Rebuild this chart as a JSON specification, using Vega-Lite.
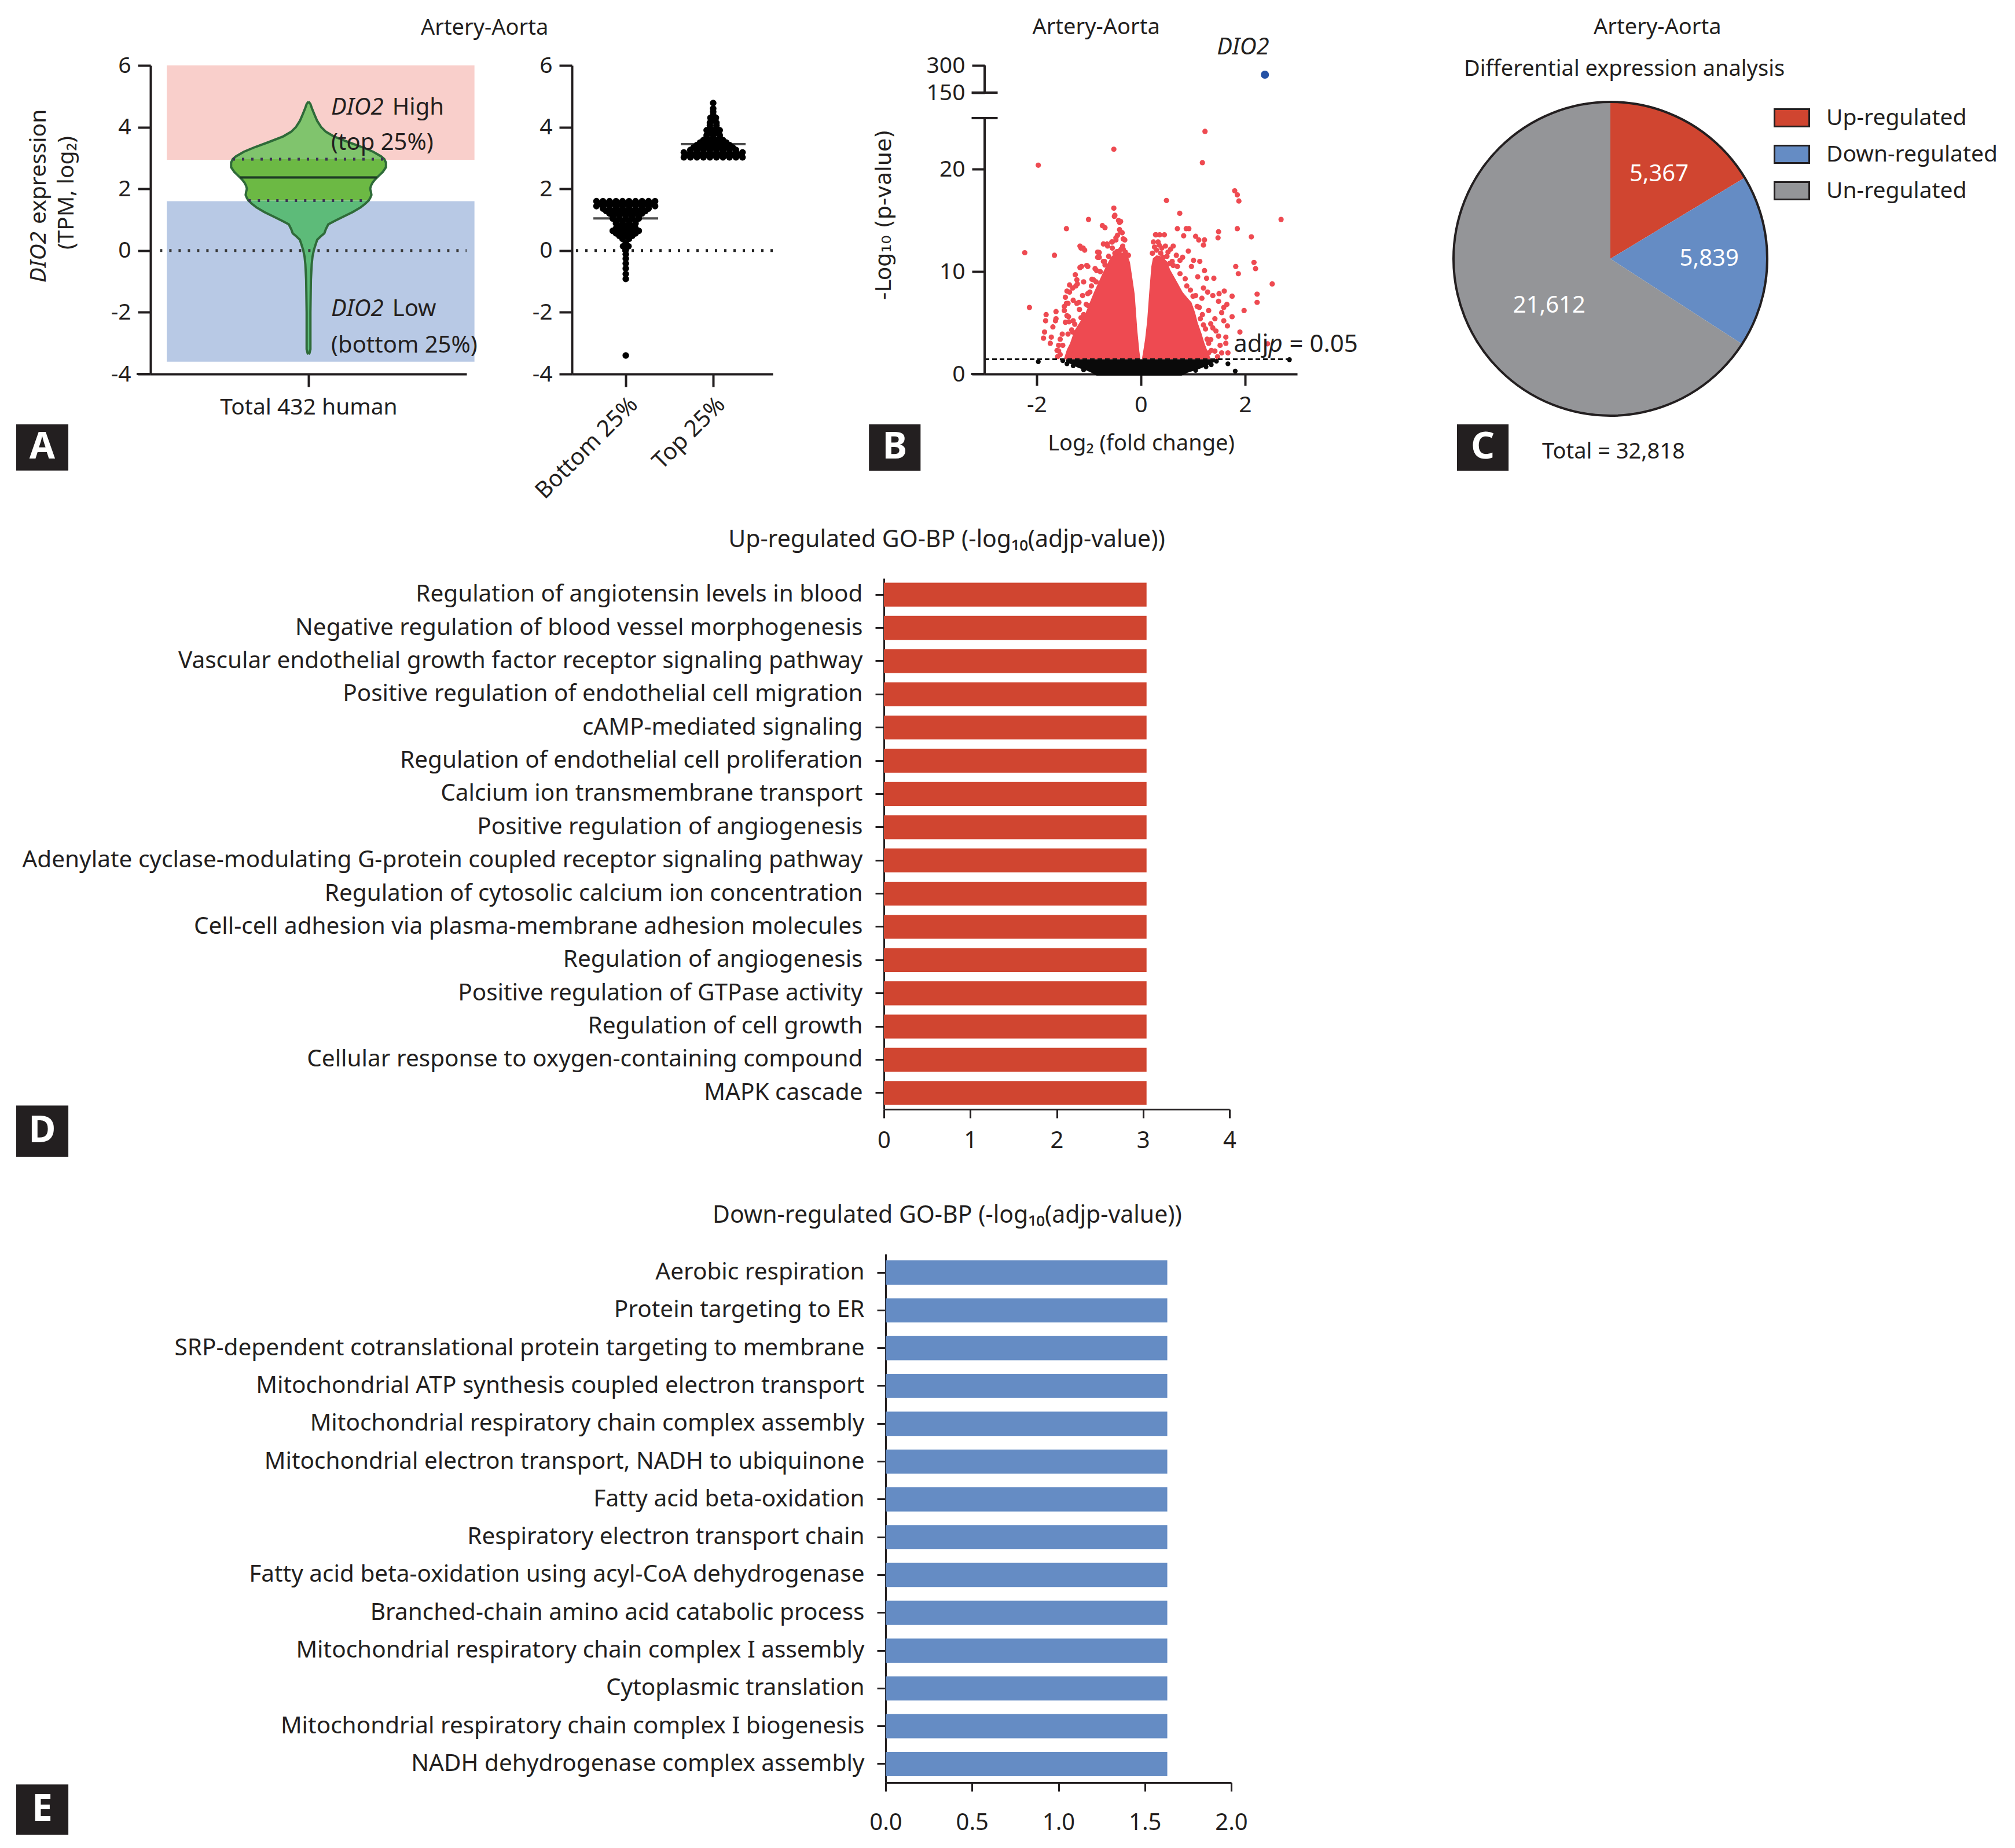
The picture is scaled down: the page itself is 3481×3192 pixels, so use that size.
{
"$schema": "https://vega.github.io/schema/vega-lite/v6.json",
"background": "white",
"padding": {"left": 27, "top": 29, "right": 10, "bottom": 10},
"config": {
  "view": {"stroke": null},
  "font": "Noto Sans",
  "axis": {"labelFont": "Noto Sans", "titleFont": "Noto Sans", "labelFontSize": 39, "titleFontSize": 38, "titleFontWeight": "normal", "labelColor": "#231f20", "titleColor": "#231f20", "domainColor": "#231f20", "tickColor": "#231f20", "domainWidth": 4, "tickWidth": 4, "tickSize": 20, "labelPadding": 12, "grid": false, "labelLimit": 0, "labelFlush": false, "labelOverlap": false},
  "text": {"font": "Noto Sans", "fontSize": 38, "color": "#231f20"}
},
"datasets": {
  "violin": [
    {"seg":"top","v":4.83,"l":0,"r":0},{"seg":"top","v":4.75,"l":-0.012,"r":0.012},{"seg":"top","v":4.6,"l":-0.022,"r":0.022},{"seg":"top","v":4.4,"l":-0.038,"r":0.038},{"seg":"top","v":4.2,"l":-0.055,"r":0.055},{"seg":"top","v":4.0,"l":-0.08,"r":0.08},{"seg":"top","v":3.85,"l":-0.11,"r":0.11},{"seg":"top","v":3.7,"l":-0.16,"r":0.16},{"seg":"top","v":3.5,"l":-0.26,"r":0.26},{"seg":"top","v":3.35,"l":-0.34,"r":0.34},{"seg":"top","v":3.2,"l":-0.41,"r":0.41},{"seg":"top","v":3.05,"l":-0.46,"r":0.46},{"seg":"top","v":2.96,"l":-0.48,"r":0.48},
    {"seg":"mid","v":2.96,"l":-0.48,"r":0.48},{"seg":"mid","v":2.85,"l":-0.49,"r":0.49},{"seg":"mid","v":2.7,"l":-0.49,"r":0.49},{"seg":"mid","v":2.55,"l":-0.47,"r":0.47},{"seg":"mid","v":2.4,"l":-0.44,"r":0.44},{"seg":"mid","v":2.3,"l":-0.42,"r":0.42},{"seg":"mid","v":2.2,"l":-0.405,"r":0.405},{"seg":"mid","v":2.1,"l":-0.395,"r":0.395},{"seg":"mid","v":2.0,"l":-0.39,"r":0.39},{"seg":"mid","v":1.9,"l":-0.395,"r":0.395},{"seg":"mid","v":1.8,"l":-0.398,"r":0.398},{"seg":"mid","v":1.7,"l":-0.39,"r":0.39},{"seg":"mid","v":1.62,"l":-0.38,"r":0.38},
    {"seg":"low","v":1.62,"l":-0.38,"r":0.38},{"seg":"low","v":1.5,"l":-0.355,"r":0.355},{"seg":"low","v":1.4,"l":-0.33,"r":0.33},{"seg":"low","v":1.25,"l":-0.28,"r":0.28},{"seg":"low","v":1.1,"l":-0.22,"r":0.22},{"seg":"low","v":0.97,"l":-0.17,"r":0.17},{"seg":"low","v":0.85,"l":-0.125,"r":0.125},{"seg":"low","v":0.7,"l":-0.11,"r":0.11},{"seg":"low","v":0.56,"l":-0.1,"r":0.1},{"seg":"low","v":0.45,"l":-0.075,"r":0.075},{"seg":"low","v":0.35,"l":-0.055,"r":0.055},{"seg":"low","v":0.2,"l":-0.045,"r":0.045},{"seg":"low","v":0.02,"l":-0.034,"r":0.034},{"seg":"low","v":-0.2,"l":-0.025,"r":0.025},{"seg":"low","v":-0.45,"l":-0.02,"r":0.02},{"seg":"low","v":-0.95,"l":-0.015,"r":0.015},{"seg":"low","v":-2.0,"l":-0.012,"r":0.012},{"seg":"low","v":-3.2,"l":-0.012,"r":0.012},{"seg":"low","v":-3.32,"l":-0.006,"r":0.006},{"seg":"low","v":-3.36,"l":0,"r":0}
  ],
  "bees": [
    {"g":"B","v":1.6,"d":-0.54},{"g":"B","v":1.6,"d":-0.42},{"g":"B","v":1.6,"d":-0.3},{"g":"B","v":1.6,"d":-0.18},{"g":"B","v":1.6,"d":-0.06},{"g":"B","v":1.6,"d":0.06},{"g":"B","v":1.6,"d":0.18},{"g":"B","v":1.6,"d":0.3},{"g":"B","v":1.6,"d":0.42},{"g":"B","v":1.6,"d":0.54},
    {"g":"B","v":1.52,"d":-0.48},{"g":"B","v":1.52,"d":-0.36},{"g":"B","v":1.52,"d":-0.24},{"g":"B","v":1.52,"d":-0.12},{"g":"B","v":1.52,"d":0},{"g":"B","v":1.52,"d":0.12},{"g":"B","v":1.52,"d":0.24},{"g":"B","v":1.52,"d":0.36},{"g":"B","v":1.52,"d":0.48},
    {"g":"B","v":1.44,"d":-0.54},{"g":"B","v":1.44,"d":-0.42},{"g":"B","v":1.44,"d":-0.3},{"g":"B","v":1.44,"d":-0.18},{"g":"B","v":1.44,"d":-0.06},{"g":"B","v":1.44,"d":0.06},{"g":"B","v":1.44,"d":0.18},{"g":"B","v":1.44,"d":0.3},{"g":"B","v":1.44,"d":0.42},{"g":"B","v":1.44,"d":0.54},
    {"g":"B","v":1.36,"d":-0.42},{"g":"B","v":1.36,"d":-0.3},{"g":"B","v":1.36,"d":-0.18},{"g":"B","v":1.36,"d":-0.06},{"g":"B","v":1.36,"d":0.06},{"g":"B","v":1.36,"d":0.18},{"g":"B","v":1.36,"d":0.3},{"g":"B","v":1.36,"d":0.42},
    {"g":"B","v":1.28,"d":-0.36},{"g":"B","v":1.28,"d":-0.24},{"g":"B","v":1.28,"d":-0.12},{"g":"B","v":1.28,"d":0},{"g":"B","v":1.28,"d":0.12},{"g":"B","v":1.28,"d":0.24},{"g":"B","v":1.28,"d":0.36},
    {"g":"B","v":1.2,"d":-0.3},{"g":"B","v":1.2,"d":-0.18},{"g":"B","v":1.2,"d":-0.06},{"g":"B","v":1.2,"d":0.06},{"g":"B","v":1.2,"d":0.18},{"g":"B","v":1.2,"d":0.3},
    {"g":"B","v":1.12,"d":-0.24},{"g":"B","v":1.12,"d":-0.12},{"g":"B","v":1.12,"d":0},{"g":"B","v":1.12,"d":0.12},{"g":"B","v":1.12,"d":0.24},
    {"g":"B","v":1.04,"d":-0.24},{"g":"B","v":1.04,"d":-0.12},{"g":"B","v":1.04,"d":0},{"g":"B","v":1.04,"d":0.12},{"g":"B","v":1.04,"d":0.24},
    {"g":"B","v":0.96,"d":-0.18},{"g":"B","v":0.96,"d":-0.06},{"g":"B","v":0.96,"d":0.06},{"g":"B","v":0.96,"d":0.18},
    {"g":"B","v":0.88,"d":-0.18},{"g":"B","v":0.88,"d":-0.06},{"g":"B","v":0.88,"d":0.06},{"g":"B","v":0.88,"d":0.18},
    {"g":"B","v":0.8,"d":-0.12},{"g":"B","v":0.8,"d":0},{"g":"B","v":0.8,"d":0.12},
    {"g":"B","v":0.72,"d":-0.18},{"g":"B","v":0.72,"d":-0.06},{"g":"B","v":0.72,"d":0.06},{"g":"B","v":0.72,"d":0.18},
    {"g":"B","v":0.64,"d":-0.24},{"g":"B","v":0.64,"d":-0.12},{"g":"B","v":0.64,"d":0},{"g":"B","v":0.64,"d":0.12},{"g":"B","v":0.64,"d":0.24},
    {"g":"B","v":0.56,"d":-0.18},{"g":"B","v":0.56,"d":-0.06},{"g":"B","v":0.56,"d":0.06},{"g":"B","v":0.56,"d":0.18},
    {"g":"B","v":0.48,"d":-0.12},{"g":"B","v":0.48,"d":0},{"g":"B","v":0.48,"d":0.12},
    {"g":"B","v":0.38,"d":-0.06},{"g":"B","v":0.38,"d":0.06},
    {"g":"B","v":0.26,"d":0},{"g":"B","v":0.14,"d":-0.05},{"g":"B","v":0.14,"d":0.05},{"g":"B","v":0.02,"d":0},{"g":"B","v":-0.12,"d":0},{"g":"B","v":-0.26,"d":0},{"g":"B","v":-0.42,"d":0},{"g":"B","v":-0.58,"d":0},{"g":"B","v":-0.76,"d":0},{"g":"B","v":-0.92,"d":0},{"g":"B","v":-3.4,"d":0},
    {"g":"T","v":3.02,"d":-0.54},{"g":"T","v":3.02,"d":-0.42},{"g":"T","v":3.02,"d":-0.3},{"g":"T","v":3.02,"d":-0.18},{"g":"T","v":3.02,"d":-0.06},{"g":"T","v":3.02,"d":0.06},{"g":"T","v":3.02,"d":0.18},{"g":"T","v":3.02,"d":0.3},{"g":"T","v":3.02,"d":0.42},{"g":"T","v":3.02,"d":0.54},
    {"g":"T","v":3.1,"d":-0.48},{"g":"T","v":3.1,"d":-0.36},{"g":"T","v":3.1,"d":-0.24},{"g":"T","v":3.1,"d":-0.12},{"g":"T","v":3.1,"d":0},{"g":"T","v":3.1,"d":0.12},{"g":"T","v":3.1,"d":0.24},{"g":"T","v":3.1,"d":0.36},{"g":"T","v":3.1,"d":0.48},
    {"g":"T","v":3.18,"d":-0.54},{"g":"T","v":3.18,"d":-0.42},{"g":"T","v":3.18,"d":-0.3},{"g":"T","v":3.18,"d":-0.18},{"g":"T","v":3.18,"d":-0.06},{"g":"T","v":3.18,"d":0.06},{"g":"T","v":3.18,"d":0.18},{"g":"T","v":3.18,"d":0.3},{"g":"T","v":3.18,"d":0.42},{"g":"T","v":3.18,"d":0.54},
    {"g":"T","v":3.26,"d":-0.42},{"g":"T","v":3.26,"d":-0.3},{"g":"T","v":3.26,"d":-0.18},{"g":"T","v":3.26,"d":-0.06},{"g":"T","v":3.26,"d":0.06},{"g":"T","v":3.26,"d":0.18},{"g":"T","v":3.26,"d":0.3},{"g":"T","v":3.26,"d":0.42},
    {"g":"T","v":3.34,"d":-0.36},{"g":"T","v":3.34,"d":-0.24},{"g":"T","v":3.34,"d":-0.12},{"g":"T","v":3.34,"d":0},{"g":"T","v":3.34,"d":0.12},{"g":"T","v":3.34,"d":0.24},{"g":"T","v":3.34,"d":0.36},
    {"g":"T","v":3.42,"d":-0.3},{"g":"T","v":3.42,"d":-0.18},{"g":"T","v":3.42,"d":-0.06},{"g":"T","v":3.42,"d":0.06},{"g":"T","v":3.42,"d":0.18},{"g":"T","v":3.42,"d":0.3},
    {"g":"T","v":3.5,"d":-0.24},{"g":"T","v":3.5,"d":-0.12},{"g":"T","v":3.5,"d":0},{"g":"T","v":3.5,"d":0.12},{"g":"T","v":3.5,"d":0.24},
    {"g":"T","v":3.58,"d":-0.18},{"g":"T","v":3.58,"d":-0.06},{"g":"T","v":3.58,"d":0.06},{"g":"T","v":3.58,"d":0.18},
    {"g":"T","v":3.66,"d":-0.12},{"g":"T","v":3.66,"d":0},{"g":"T","v":3.66,"d":0.12},
    {"g":"T","v":3.74,"d":-0.12},{"g":"T","v":3.74,"d":0},{"g":"T","v":3.74,"d":0.12},
    {"g":"T","v":3.82,"d":-0.06},{"g":"T","v":3.82,"d":0.06},
    {"g":"T","v":3.9,"d":-0.12},{"g":"T","v":3.9,"d":0},{"g":"T","v":3.9,"d":0.12},
    {"g":"T","v":3.98,"d":-0.06},{"g":"T","v":3.98,"d":0.06},{"g":"T","v":4.06,"d":-0.06},{"g":"T","v":4.06,"d":0.06},{"g":"T","v":4.14,"d":-0.06},{"g":"T","v":4.14,"d":0.06},
    {"g":"T","v":4.22,"d":0},{"g":"T","v":4.3,"d":-0.05},{"g":"T","v":4.3,"d":0.05},{"g":"T","v":4.4,"d":0},{"g":"T","v":4.5,"d":0},{"g":"T","v":4.6,"d":0},{"g":"T","v":4.78,"d":0}
  ],
  "wings": [
    {"wing":"L","x":-1.47,"top":1.6},{"wing":"L","x":-1.42,"top":2.4},{"wing":"L","x":-1.36,"top":3.0},{"wing":"L","x":-1.28,"top":4.2},{"wing":"L","x":-1.18,"top":5.0},{"wing":"L","x":-1.06,"top":6.0},{"wing":"L","x":-0.98,"top":7.0},{"wing":"L","x":-0.9,"top":8.0},{"wing":"L","x":-0.81,"top":9.0},{"wing":"L","x":-0.73,"top":9.9},{"wing":"L","x":-0.65,"top":10.7},{"wing":"L","x":-0.58,"top":11.4},{"wing":"L","x":-0.5,"top":11.8},{"wing":"L","x":-0.4,"top":11.9},{"wing":"L","x":-0.3,"top":11.8},{"wing":"L","x":-0.25,"top":11.5},{"wing":"L","x":-0.21,"top":10.9},{"wing":"L","x":-0.16,"top":9.2},{"wing":"L","x":-0.12,"top":7.8},{"wing":"L","x":-0.07,"top":4.3},{"wing":"L","x":-0.03,"top":2.2},{"wing":"L","x":-0.01,"top":1.5},
    {"wing":"R","x":0.02,"top":1.5},{"wing":"R","x":0.05,"top":2.4},{"wing":"R","x":0.08,"top":3.4},{"wing":"R","x":0.12,"top":5.2},{"wing":"R","x":0.16,"top":8.0},{"wing":"R","x":0.2,"top":10.5},{"wing":"R","x":0.23,"top":11.3},{"wing":"R","x":0.3,"top":11.6},{"wing":"R","x":0.4,"top":11.5},{"wing":"R","x":0.5,"top":11.0},{"wing":"R","x":0.56,"top":10.2},{"wing":"R","x":0.67,"top":9.2},{"wing":"R","x":0.8,"top":8.0},{"wing":"R","x":0.9,"top":7.4},{"wing":"R","x":0.97,"top":7.0},{"wing":"R","x":1.04,"top":6.0},{"wing":"R","x":1.09,"top":5.0},{"wing":"R","x":1.16,"top":4.0},{"wing":"R","x":1.22,"top":3.0},{"wing":"R","x":1.28,"top":2.2},{"wing":"R","x":1.33,"top":1.6}
  ],
  "blob": [
    {"x":-1.44,"top":1.44,"bot":1.2},{"x":-1.3,"top":1.44,"bot":0.85},{"x":-1.2,"top":1.44,"bot":0.6},{"x":-1.05,"top":1.44,"bot":0.35},{"x":-0.92,"top":1.44,"bot":0.05},{"x":-0.85,"top":1.44,"bot":-0.15},{"x":0.78,"top":1.44,"bot":-0.15},{"x":0.88,"top":1.44,"bot":0.1},{"x":1.0,"top":1.44,"bot":0.3},{"x":1.15,"top":1.44,"bot":0.55},{"x":1.3,"top":1.44,"bot":0.9},{"x":1.42,"top":1.44,"bot":1.2}
  ],
  "redpts": [
    {"x":1.23,"y":23.7},{"x":-0.52,"y":21.96},{"x":-1.97,"y":20.4},{"x":1.18,"y":20.65},{"x":1.8,"y":17.9},{"x":1.85,"y":17.5},{"x":1.88,"y":16.9},{"x":0.49,"y":16.95},{"x":-0.52,"y":16.2},{"x":0.745,"y":15.7},{"x":2.69,"y":15.1},{"x":-1.006,"y":15.1},{"x":-0.51,"y":15.4},{"x":-0.43,"y":15.0},{"x":-0.41,"y":14.8},{"x":-0.69,"y":14.3},{"x":-1.43,"y":14.2},{"x":1.85,"y":14.2},{"x":1.49,"y":13.9},{"x":1.48,"y":13.3},{"x":2.12,"y":13.4},{"x":0.7,"y":14.2},{"x":0.87,"y":14.2},{"x":0.92,"y":14.2},{"x":0.28,"y":13.6},{"x":0.36,"y":13.6},{"x":0.45,"y":13.6},{"x":-2.23,"y":11.85},{"x":-1.66,"y":11.6},{"x":-1.15,"y":12.3},{"x":-1.08,"y":12.1},{"x":2.17,"y":10.9},{"x":2.2,"y":10.3},{"x":1.82,"y":10.5},{"x":1.87,"y":9.8},{"x":2.52,"y":8.8},{"x":2.23,"y":7.8},{"x":2.23,"y":7.0},{"x":-2.14,"y":6.5},{"x":1.98,"y":6.2},{"x":1.4,"y":9.35},{"x":1.75,"y":7.6},{"x":2.43,"y":2.95},{"x":-1.83,"y":5.2},{"x":-1.69,"y":4.6},{"x":-1.87,"y":3.5},{"x":-1.74,"y":3.0},{"x":-1.61,"y":2.3},{"x":-1.63,"y":5.4},{"x":1.9,"y":4.1},{"x":1.66,"y":4.7},{"x":1.63,"y":3.6},{"x":1.75,"y":5.6},
    {"x":-0.8,"y":11.87},{"x":-0.8,"y":11.4},{"x":-0.65,"y":12.7},{"x":-0.56,"y":12.9},{"x":-0.48,"y":13.1},{"x":-0.45,"y":13.55},{"x":-0.36,"y":13.8},{"x":-0.31,"y":13.1},{"x":-0.34,"y":12.2},{"x":-0.46,"y":11.96},{"x":-0.69,"y":10.65},{"x":-0.85,"y":10.1},{"x":-0.94,"y":9.25},{"x":-1.14,"y":10.5},{"x":-1.02,"y":10.5},{"x":-1.23,"y":9.2},{"x":-1.25,"y":8.6},{"x":-1.37,"y":8.0},{"x":-1.45,"y":7.5},{"x":-1.43,"y":6.9},{"x":-1.47,"y":6.2},{"x":-1.39,"y":5.6},{"x":-1.45,"y":5.05},{"x":-1.51,"y":3.9},{"x":-1.58,"y":2.25},{"x":-1.6,"y":1.7},{"x":-1.27,"y":4.86},{"x":-1.1,"y":5.8},{"x":-1.02,"y":7.85},{"x":-0.91,"y":9.2},{"x":-1.12,"y":7.66},{"x":-1.23,"y":6.9},{"x":-1.31,"y":4.1},{"x":-1.33,"y":2.4},{"x":-1.1,"y":9.0},{"x":-1.02,"y":6.7},
    {"x":-0.62,"y":11.5},{"x":-0.5,"y":11.8},{"x":-0.42,"y":12.0},{"x":-0.3,"y":11.9},{"x":-0.24,"y":11.6},{"x":-0.35,"y":12.5},{"x":-0.55,"y":12.3},{"x":-0.72,"y":11.0},{"x":-0.95,"y":8.6},{"x":-1.18,"y":6.3},{"x":-1.3,"y":5.2},{"x":-1.5,"y":2.8},{"x":-1.55,"y":1.9},
    {"x":-0.5,"y":15.5},{"x":-0.39,"y":14.9},{"x":-0.41,"y":14.1},{"x":-0.39,"y":13.9},{"x":-0.34,"y":13.2},{"x":-0.48,"y":13.3},{"x":-0.55,"y":12.9},{"x":-0.72,"y":12.7},{"x":-0.64,"y":12.5},{"x":-0.38,"y":12.2},{"x":-0.83,"y":11.9},{"x":-0.83,"y":11.4},{"x":-1.17,"y":12.5},{"x":-1.11,"y":12.3},{"x":-0.74,"y":14.5},{"x":-1.17,"y":10.4},{"x":-1.04,"y":10.6},{"x":-0.88,"y":10.3},{"x":-0.7,"y":11.0},{"x":-1.26,"y":9.7},{"x":-1.22,"y":8.8},{"x":-1.37,"y":8.7},{"x":-1.31,"y":8.4},{"x":-1.42,"y":8.1},{"x":-1.47,"y":6.6},{"x":-1.4,"y":6.9},{"x":-1.3,"y":7.2},{"x":-1.19,"y":7.0},{"x":-1.42,"y":5.7},{"x":-1.63,"y":6.1},{"x":-1.82,"y":5.8},{"x":-1.64,"y":5.2},{"x":-1.85,"y":4.1},{"x":-1.72,"y":3.6},{"x":-1.55,"y":3.4},{"x":-1.58,"y":2.8},{"x":-1.38,"y":5.1},{"x":-1.33,"y":4.3},{"x":-1.4,"y":3.9},{"x":-0.98,"y":8.0},{"x":-0.86,"y":9.0},{"x":-0.78,"y":10.0},{"x":-1.05,"y":6.8},{"x":-1.15,"y":5.5},
    {"x":0.29,"y":13.6},{"x":0.33,"y":12.9},{"x":0.47,"y":12.5},{"x":0.62,"y":12.5},{"x":0.82,"y":13.5},{"x":0.91,"y":12.0},{"x":0.8,"y":11.4},{"x":1.05,"y":13.45},{"x":1.11,"y":13.1},{"x":1.22,"y":13.1},{"x":1.2,"y":12.6},{"x":1.01,"y":11.1},{"x":1.13,"y":11.0},{"x":1.22,"y":10.1},{"x":1.26,"y":9.35},{"x":1.2,"y":8.4},{"x":1.28,"y":8.0},{"x":1.38,"y":7.66},{"x":1.5,"y":7.85},{"x":1.6,"y":8.1},{"x":1.49,"y":7.1},{"x":1.59,"y":6.5},{"x":1.65,"y":6.8},{"x":1.55,"y":6.0},{"x":1.42,"y":5.4},{"x":1.59,"y":5.2},{"x":1.38,"y":4.5},{"x":1.49,"y":3.7},{"x":1.34,"y":3.36},{"x":1.63,"y":3.0},{"x":1.42,"y":2.24},{"x":1.55,"y":2.06},{"x":1.67,"y":2.06},{"x":1.47,"y":1.68},{"x":1.3,"y":2.06},{"x":1.18,"y":5.8},{"x":1.05,"y":7.66},{"x":0.68,"y":11.6},{"x":0.55,"y":10.8},{"x":0.43,"y":11.4},{"x":1.09,"y":9.5},{"x":0.97,"y":10.5},{"x":1.34,"y":4.9},
    {"x":0.22,"y":11.8},{"x":0.3,"y":12.1},{"x":0.38,"y":11.8},{"x":0.5,"y":11.5},{"x":0.6,"y":11.0},{"x":0.7,"y":10.5},{"x":0.26,"y":12.4},{"x":0.4,"y":12.3},{"x":0.85,"y":9.3},{"x":0.95,"y":8.2},{"x":1.12,"y":6.5},{"x":1.2,"y":4.8},{"x":1.27,"y":3.4},{"x":1.35,"y":2.3},
    {"x":0.75,"y":9.8},{"x":0.88,"y":8.6},{"x":1.0,"y":7.6},{"x":1.08,"y":6.6},{"x":1.14,"y":5.4},{"x":1.24,"y":4.4},{"x":1.3,"y":3.0},{"x":0.62,"y":10.6},{"x":0.52,"y":11.9},{"x":0.35,"y":12.6},{"x":0.24,"y":12.9},{"x":0.57,"y":12.2},{"x":0.75,"y":11.1},{"x":1.17,"y":7.4},{"x":1.3,"y":6.2},{"x":1.44,"y":4.2},{"x":1.52,"y":2.8}
  ],
  "blackpts": [
    {"x":-1.97,"y":1.2},{"x":1.67,"y":1.0},{"x":1.81,"y":0.28},{"x":2.85,"y":1.4},{"x":-1.42,"y":1.0},{"x":-1.3,"y":0.8},{"x":1.35,"y":0.9},{"x":1.25,"y":0.7},{"x":-1.1,"y":0.4},{"x":1.05,"y":0.35},{"x":-1.5,"y":1.3},{"x":1.45,"y":1.25}
  ],
  "upterms": [
    {"term":"Regulation of angiotensin levels in blood","val":3.04},
    {"term":"Negative regulation of blood vessel morphogenesis","val":3.04},
    {"term":"Vascular endothelial growth factor receptor signaling pathway","val":3.04},
    {"term":"Positive regulation of endothelial cell migration","val":3.04},
    {"term":"cAMP-mediated signaling","val":3.04},
    {"term":"Regulation of endothelial cell proliferation","val":3.04},
    {"term":"Calcium ion transmembrane transport","val":3.04},
    {"term":"Positive regulation of angiogenesis","val":3.04},
    {"term":"Adenylate cyclase-modulating G-protein coupled receptor signaling pathway","val":3.04},
    {"term":"Regulation of cytosolic calcium ion concentration","val":3.04},
    {"term":"Cell-cell adhesion via plasma-membrane adhesion molecules","val":3.04},
    {"term":"Regulation of angiogenesis","val":3.04},
    {"term":"Positive regulation of GTPase activity","val":3.04},
    {"term":"Regulation of cell growth","val":3.04},
    {"term":"Cellular response to oxygen-containing compound","val":3.04},
    {"term":"MAPK cascade","val":3.04}
  ],
  "downterms": [
    {"term":"Aerobic respiration","val":1.63},
    {"term":"Protein targeting to ER","val":1.63},
    {"term":"SRP-dependent cotranslational protein targeting to membrane","val":1.63},
    {"term":"Mitochondrial ATP synthesis coupled electron transport","val":1.63},
    {"term":"Mitochondrial respiratory chain complex assembly","val":1.63},
    {"term":"Mitochondrial electron transport, NADH to ubiquinone","val":1.63},
    {"term":"Fatty acid beta-oxidation","val":1.63},
    {"term":"Respiratory electron transport chain","val":1.63},
    {"term":"Fatty acid beta-oxidation using acyl-CoA dehydrogenase","val":1.63},
    {"term":"Branched-chain amino acid catabolic process","val":1.63},
    {"term":"Mitochondrial respiratory chain complex I assembly","val":1.63},
    {"term":"Cytoplasmic translation","val":1.63},
    {"term":"Mitochondrial respiratory chain complex I biogenesis","val":1.63},
    {"term":"NADH dehydrogenase complex assembly","val":1.63}
  ]
},
"spacing": 43,
"vconcat": [
 {"hconcat": [
  {
   "width": 546, "height": 533,
   "resolve": {"scale": {"color": "independent"}},
   "layer": [
    {"data": {"values": [{"zone":"high","x1":-0.897,"x2":1.05,"y1":2.94,"y2":6.0},{"zone":"low","x1":-0.897,"x2":1.05,"y1":-3.6,"y2":1.6}]},
     "mark": {"type": "rect"},
     "encoding": {
      "x": {"field": "x1", "type": "quantitative", "scale": {"domain": [-1, 1], "nice": false, "zero": false}, "axis": {"values": [0], "labelExpr": "'Total 432 human'", "title": null, "tickSize": 22, "labelPadding": 16}},
      "x2": {"field": "x2"},
      "y": {"field": "y1", "type": "quantitative", "scale": {"domain": [-4, 6], "nice": false, "zero": false}, "axis": {"values": [-4, -2, 0, 2, 4, 6], "labelExpr": "'' + datum.value", "title": null, "tickSize": 22, "labelPadding": 12}},
      "y2": {"field": "y2"},
      "color": {"field": "zone", "type": "nominal", "scale": {"domain": ["high", "low"], "range": ["#f9cfcb", "#b8c9e5"]}, "legend": null}
     }},
    {"data": {"values": [{}]},
     "mark": {"type": "rule", "strokeWidth": 4, "color": "#231f20"},
     "encoding": {"x": {"datum": -1.088}, "x2": {"datum": -1.0}, "y": {"datum": -4}}},
    {"data": {"name": "violin"},
     "mark": {"type": "area", "orient": "horizontal", "opacity": 1},
     "encoding": {
      "y": {"field": "v", "type": "quantitative"},
      "x": {"field": "l", "type": "quantitative", "stack": null},
      "x2": {"field": "r"},
      "color": {"field": "seg", "type": "nominal", "scale": {"domain": ["top", "mid", "low"], "range": ["#80c46d", "#6cb944", "#5dbb79"]}, "legend": null}
     }},
    {"data": {"name": "violin"},
     "mark": {"type": "line", "color": "#2f6b39", "strokeWidth": 4},
     "encoding": {"x": {"field": "l", "type": "quantitative"}, "y": {"field": "v", "type": "quantitative"}, "order": {"field": "v", "type": "quantitative"}}},
    {"data": {"name": "violin"},
     "mark": {"type": "line", "color": "#2f6b39", "strokeWidth": 4},
     "encoding": {"x": {"field": "r", "type": "quantitative"}, "y": {"field": "v", "type": "quantitative"}, "order": {"field": "v", "type": "quantitative"}}},
    {"data": {"values": [{"v":2.96,"l":-0.48,"r":0.48},{"v":1.62,"l":-0.38,"r":0.38}]},
     "mark": {"type": "rule", "strokeWidth": 5, "strokeDash": [4, 12], "color": "#3b3355"},
     "encoding": {"x": {"field": "l", "type": "quantitative"}, "x2": {"field": "r"}, "y": {"field": "v", "type": "quantitative"}}},
    {"data": {"values": [{"v":2.37,"l":-0.435,"r":0.435}]},
     "mark": {"type": "rule", "strokeWidth": 4, "color": "#1d3a25"},
     "encoding": {"x": {"field": "l", "type": "quantitative"}, "x2": {"field": "r"}, "y": {"field": "v", "type": "quantitative"}}},
    {"data": {"values": [{}]},
     "mark": {"type": "rule", "strokeWidth": 5, "strokeDash": [4, 12], "color": "#3a3a3a"},
     "encoding": {"x": {"datum": -0.94}, "x2": {"datum": 1.0}, "y": {"datum": 0}}},
    {"data": {"values": [{"t":"High","x":0.53,"y":4.63},{"t":"(top 25%)","x":0.143,"y":3.49},{"t":"Low","x":0.53,"y":-1.9},{"t":"(bottom 25%)","x":0.143,"y":-3.08}]},
     "mark": {"type": "text", "align": "left", "baseline": "middle", "fontSize": 40},
     "encoding": {"x": {"field": "x", "type": "quantitative"}, "y": {"field": "y", "type": "quantitative"}, "text": {"field": "t"}}},
    {"data": {"values": [{"t":"DIO2","x":0.143,"y":4.63},{"t":"DIO2","x":0.143,"y":-1.9}]},
     "mark": {"type": "text", "align": "left", "baseline": "middle", "fontSize": 40, "fontStyle": "italic"},
     "encoding": {"x": {"field": "x", "type": "quantitative"}, "y": {"field": "y", "type": "quantitative"}, "text": {"field": "t"}}},
    {"data": {"values": [{"t":"Artery-Aorta","x":1.114,"y":7.21}]},
     "mark": {"type": "text", "align": "center", "baseline": "middle"},
     "encoding": {"x": {"field": "x", "type": "quantitative"}, "y": {"field": "y", "type": "quantitative"}, "text": {"field": "t"}}},
    {"data": {"values": [{"t":"DIO2","x":-1.707,"y":-1.04}]},
     "mark": {"type": "text", "align": "left", "baseline": "middle", "angle": 270, "fontStyle": "italic", "fontSize": 39},
     "encoding": {"x": {"field": "x", "type": "quantitative"}, "y": {"field": "y", "type": "quantitative"}, "text": {"field": "t"}}},
    {"data": {"values": [{"t":"expression","x":-1.707,"y":0.86}]},
     "mark": {"type": "text", "align": "left", "baseline": "middle", "angle": 270, "fontSize": 39},
     "encoding": {"x": {"field": "x", "type": "quantitative"}, "y": {"field": "y", "type": "quantitative"}, "text": {"field": "t"}}},
    {"data": {"values": [{"t":"(TPM, log₂)","x":-1.531,"y":1.87}]},
     "mark": {"type": "text", "align": "center", "baseline": "middle", "angle": 270, "fontSize": 39},
     "encoding": {"x": {"field": "x", "type": "quantitative"}, "y": {"field": "y", "type": "quantitative"}, "text": {"field": "t"}}},
    {"data": {"values": [{"p":"A","x1":-1.85,"x2":-1.52,"y1":-5.63,"y2":-7.13,"xc":-1.685,"yc":-6.38}]},
     "layer": [
      {"mark": {"type": "rect", "color": "#231f20"}, "encoding": {"x": {"field": "x1", "type": "quantitative"}, "x2": {"field": "x2"}, "y": {"field": "y1", "type": "quantitative"}, "y2": {"field": "y2"}}},
      {"mark": {"type": "text", "color": "white", "fontSize": 64, "fontWeight": "bold", "align": "center", "baseline": "middle"}, "encoding": {"x": {"field": "xc", "type": "quantitative"}, "y": {"field": "yc", "type": "quantitative"}, "text": {"field": "p"}}}
     ]}
   ]
  },
  {
   "width": 347, "height": 533,
   "layer": [
    {"data": {"values": [{}]},
     "mark": {"type": "rule", "strokeWidth": 5, "strokeDash": [4, 12], "color": "#222222"},
     "encoding": {"y": {"datum": 0, "type": "quantitative"}}},
    {"data": {"name": "bees"},
     "mark": {"type": "circle", "size": 130, "color": "#000000", "opacity": 1},
     "encoding": {
      "x": {"field": "g", "type": "nominal", "scale": {"domain": ["B", "T"], "paddingInner": 0, "paddingOuter": 0.149, "align": 0.39}, "axis": {"labelExpr": "datum.value == 'B' ? 'Bottom 25%' : 'Top 25%'", "labelAngle": -45, "title": null, "tickSize": 22, "labelPadding": 10, "labelFontSize": 40}},
      "xOffset": {"field": "d", "type": "quantitative", "scale": {"domain": [-0.805, 0.805]}},
      "y": {"field": "v", "type": "quantitative", "scale": {"domain": [-4, 6], "nice": false, "zero": false}, "axis": {"values": [-4, -2, 0, 2, 4, 6], "labelExpr": "'' + datum.value", "title": null, "tickSize": 22, "labelPadding": 12}}
     }},
    {"data": {"values": [{"g":"B","m":1.04},{"g":"T","m":3.45}]},
     "mark": {"type": "tick", "orient": "horizontal", "size": 112, "thickness": 4, "color": "#000000"},
     "encoding": {"x": {"field": "g", "type": "nominal"}, "y": {"field": "m", "type": "quantitative"}}}
   ]
  },
  {"width": 2, "height": 10, "data": {"values": [{}]}, "mark": {"type": "point", "opacity": 0}, "encoding": {}},
  {
   "width": 540, "height": 533,
   "layer": [
    {"data": {"name": "wings"},
     "mark": {"type": "area", "color": "#ee4a51", "opacity": 1},
     "encoding": {
      "x": {"field": "x", "type": "quantitative", "scale": {"domain": [-3, 3], "nice": false, "zero": false}, "axis": {"values": [-2, 0, 2], "labelExpr": "'' + datum.value", "title": "Log₂ (fold change)", "titlePadding": 28, "tickSize": 20, "labelPadding": 14}},
      "y": {"field": "top", "type": "quantitative", "stack": null, "scale": {"domain": [0, 25, 150, 300], "range": [533, 91, 47, 0], "nice": false, "zero": false}, "axis": {"values": [0, 10, 20, 150, 300], "domain": false, "title": null, "tickSize": 22, "labelPadding": 12}},
      "y2": {"datum": 1.44},
      "detail": {"field": "wing"}
     }},
    {"data": {"name": "blob"},
     "mark": {"type": "area", "color": "#0a0a0a", "opacity": 1},
     "encoding": {"x": {"field": "x", "type": "quantitative"}, "y": {"field": "top", "type": "quantitative", "stack": null}, "y2": {"field": "bot"}}},
    {"data": {"name": "redpts"},
     "mark": {"type": "circle", "size": 85, "color": "#ee4a51", "opacity": 1},
     "encoding": {"x": {"field": "x", "type": "quantitative"}, "y": {"field": "y", "type": "quantitative"}}},
    {"data": {"name": "blackpts"},
     "mark": {"type": "circle", "size": 70, "color": "#0a0a0a", "opacity": 1},
     "encoding": {"x": {"field": "x", "type": "quantitative"}, "y": {"field": "y", "type": "quantitative"}}},
    {"data": {"values": [{}]},
     "mark": {"type": "rule", "strokeWidth": 3, "strokeDash": [8, 5], "color": "#111111"},
     "encoding": {"x": {"datum": -3}, "x2": {"datum": 2.9}, "y": {"datum": 1.44}}},
    {"data": {"values": [{}]},
     "mark": {"type": "rule", "strokeWidth": 4, "color": "#231f20"},
     "encoding": {"x": {"datum": -3}, "y": {"datum": 0}, "y2": {"datum": 25}}},
    {"data": {"values": [{}]},
     "mark": {"type": "rule", "strokeWidth": 4, "color": "#231f20"},
     "encoding": {"x": {"datum": -3}, "y": {"datum": 150}, "y2": {"datum": 300}}},
    {"data": {"values": [{}]},
     "mark": {"type": "rule", "strokeWidth": 4, "color": "#231f20"},
     "encoding": {"x": {"datum": -3.25}, "x2": {"datum": -2.75}, "y": {"datum": 25}}},
    {"data": {"values": [{}]},
     "mark": {"type": "rule", "strokeWidth": 4, "color": "#231f20"},
     "encoding": {"x": {"datum": -3.25}, "x2": {"datum": -2.75}, "y": {"datum": 150}}},
    {"data": {"values": [{}]},
     "mark": {"type": "rule", "strokeWidth": 4, "color": "#231f20"},
     "encoding": {"x": {"datum": -3.26}, "x2": {"datum": -3.0}, "y": {"datum": 0}}},
    {"data": {"values": [{"gene":"DIO2","x":2.38,"y":249}]},
     "mark": {"type": "circle", "size": 200, "color": "#2451a5", "opacity": 1},
     "encoding": {"x": {"field": "x", "type": "quantitative"}, "y": {"field": "y", "type": "quantitative"}}},
    {"data": {"values": [{"t":"DIO2","x":1.96,"y":399}]},
     "mark": {"type": "text", "align": "center", "baseline": "middle", "fontStyle": "italic", "fontSize": 40},
     "encoding": {"x": {"field": "x", "type": "quantitative"}, "y": {"field": "y", "type": "quantitative"}, "text": {"field": "t"}}},
    {"data": {"values": [{"t":"Artery-Aorta","x":-0.86,"y":507}]},
     "mark": {"type": "text", "align": "center", "baseline": "middle"},
     "encoding": {"x": {"field": "x", "type": "quantitative"}, "y": {"field": "y", "type": "quantitative"}, "text": {"field": "t"}}},
    {"data": {"values": [{"t":"adj","x":1.78,"y":2.9},{"t":"= 0.05","x":2.85,"y":2.9}]},
     "mark": {"type": "text", "align": "left", "baseline": "middle", "fontSize": 42},
     "encoding": {"x": {"field": "x", "type": "quantitative"}, "y": {"field": "y", "type": "quantitative"}, "text": {"field": "t"}}},
    {"data": {"values": [{"t":"p","x":2.45,"y":2.9}]},
     "mark": {"type": "text", "align": "left", "baseline": "middle", "fontStyle": "italic", "fontSize": 42},
     "encoding": {"x": {"field": "x", "type": "quantitative"}, "y": {"field": "y", "type": "quantitative"}, "text": {"field": "t"}}},
    {"data": {"values": [{"t":"-Log₁₀ (p-value)","x":-4.92,"y":15.55}]},
     "mark": {"type": "text", "align": "center", "baseline": "middle", "angle": 270, "font": "DejaVu Sans", "fontSize": 38},
     "encoding": {"x": {"field": "x", "type": "quantitative"}, "y": {"field": "y", "type": "quantitative"}, "text": {"field": "t"}}},
    {"data": {"values": [{"p":"B","x1":-5.22,"x2":-4.23,"y1":-4.92,"y2":-9.45,"xc":-4.725,"yc":-7.18}]},
     "layer": [
      {"mark": {"type": "rect", "color": "#231f20"}, "encoding": {"x": {"field": "x1", "type": "quantitative"}, "x2": {"field": "x2"}, "y": {"field": "y1", "type": "quantitative"}, "y2": {"field": "y2"}}},
      {"mark": {"type": "text", "color": "white", "fontSize": 64, "fontWeight": "bold", "align": "center", "baseline": "middle"}, "encoding": {"x": {"field": "xc", "type": "quantitative"}, "y": {"field": "yc", "type": "quantitative"}, "text": {"field": "p"}}}
     ]}
   ]
  },
  {
   "width": 718, "height": 668,
   "layer": [
    {"data": {"values": [{"cat":"Up-regulated","n":5367,"idx":1},{"cat":"Down-regulated","n":5839,"idx":2},{"cat":"Un-regulated","n":21612,"idx":3}]},
     "mark": {"type": "arc", "outerRadius": 271},
     "encoding": {
      "theta": {"field": "n", "type": "quantitative", "stack": true},
      "order": {"field": "idx", "type": "quantitative"},
      "color": {"field": "cat", "type": "nominal", "scale": {"domain": ["Up-regulated", "Down-regulated", "Un-regulated"], "range": ["#d04530", "#658cc4", "#949598"]},
       "legend": {"title": null, "orient": "right", "offset": -136, "padding": 59, "symbolType": "M-1,-0.5H1V0.5H-1Z", "symbolSize": 3600, "symbolStrokeColor": "#231f20", "symbolStrokeWidth": 3, "symbolOpacity": 1, "labelFontSize": 39, "labelFont": "Noto Sans", "labelColor": "#231f20", "labelOffset": 28, "rowPadding": 10, "labelLimit": 0}}
     }},
    {"data": {"values": [{"n":32818}]},
     "mark": {"type": "arc", "outerRadius": 271, "filled": false, "stroke": "#231f20", "strokeWidth": 4},
     "encoding": {"theta": {"field": "n", "type": "quantitative", "stack": true}}},
    {"data": {"values": [{"t":"5,367","x":0.31,"y":0.54},{"t":"5,839","x":0.63,"y":0.0},{"t":"21,612","x":-0.39,"y":-0.3}]},
     "mark": {"type": "text", "align": "center", "baseline": "middle", "color": "white", "fontSize": 40},
     "encoding": {
      "x": {"field": "x", "type": "quantitative", "scale": {"domain": [-1.3247, 1.3247], "nice": false, "zero": false}, "axis": null},
      "y": {"field": "y", "type": "quantitative", "scale": {"domain": [-1.2325, 1.2325], "nice": false, "zero": false}, "axis": null},
      "text": {"field": "t"}
     }},
    {"data": {"values": [{"t":"Artery-Aorta","x":0.3,"y":1.472},{"t":"Differential expression analysis","x":0.089,"y":1.207},{"t":"Total = 32,818","x":0.02,"y":-1.232}]},
     "mark": {"type": "text", "align": "center", "baseline": "middle"},
     "encoding": {"x": {"field": "x", "type": "quantitative"}, "y": {"field": "y", "type": "quantitative"}, "text": {"field": "t"}}},
    {"data": {"values": [{"p":"C","x1":-0.978,"x2":-0.649,"y1":-1.055,"y2":-1.351,"xc":-0.8135,"yc":-1.203}]},
     "layer": [
      {"mark": {"type": "rect", "color": "#231f20"}, "encoding": {"x": {"field": "x1", "type": "quantitative"}, "x2": {"field": "x2"}, "y": {"field": "y1", "type": "quantitative"}, "y2": {"field": "y2"}}},
      {"mark": {"type": "text", "color": "white", "fontSize": 64, "fontWeight": "bold", "align": "center", "baseline": "middle"}, "encoding": {"x": {"field": "xc", "type": "quantitative"}, "y": {"field": "yc", "type": "quantitative"}, "text": {"field": "p"}}}
     ]}
   ]
  }
 ], "spacing": 182, "bounds": "flush"},
 {"vconcat": [
  {"hconcat": [
    {"width": 1267, "height": 10, "data": {"values": [{}]}, "mark": {"type": "point", "opacity": 0}, "encoding": {}},
    {
     "width": 597, "height": 917,
     "title": {"text": "Up-regulated GO-BP (-log₁₀(adjp-value))", "fontSize": 41, "fontWeight": "normal", "font": "Noto Sans", "color": "#231f20", "anchor": "middle", "dx": -190, "offset": 45},
     "resolve": {"scale": {"y": "independent"}},
     "layer": [
      {"data": {"name": "upterms"},
       "mark": {"type": "bar", "color": "#d04530"},
       "encoding": {
        "y": {"field": "term", "type": "nominal", "sort": null, "scale": {"paddingInner": 0.28, "paddingOuter": 0.13}, "axis": {"title": null, "tickSize": 15, "tickWidth": 3, "domainWidth": 3, "labelPadding": 22, "labelLimit": 0, "labelFontSize": 40.5}},
        "x": {"field": "val", "type": "quantitative", "scale": {"domain": [0, 4], "nice": false}, "axis": {"values": [0, 1, 2, 3, 4], "labelExpr": "'' + datum.value", "title": null, "tickSize": 15, "tickWidth": 3, "domainWidth": 3, "labelPadding": 19, "labelFontSize": 40}}
       }},
      {"data": {"values": [{"p":"D","x1":-10.044,"x2":-9.44,"y1":15.885,"y2":17.43}]},
       "mark": {"type": "rect", "color": "#231f20"},
       "encoding": {"x": {"field": "x1", "type": "quantitative"}, "x2": {"field": "x2"}, "y": {"field": "y1", "type": "quantitative", "scale": {"domain": [0, 16], "reverse": true, "nice": false, "zero": false}, "axis": null}, "y2": {"field": "y2"}}},
      {"data": {"values": [{"p":"D","xc":-9.742,"yc":16.66}]},
       "mark": {"type": "text", "color": "white", "fontSize": 64, "fontWeight": "bold", "align": "center", "baseline": "middle"},
       "encoding": {"x": {"field": "xc", "type": "quantitative"}, "y": {"field": "yc", "type": "quantitative", "scale": {"domain": [0, 16], "reverse": true, "nice": false, "zero": false}, "axis": null}, "text": {"field": "p"}}}
     ]
    }
  ], "spacing": 0, "bounds": "flush"},
  {"hconcat": [
    {"width": 1270, "height": 10, "data": {"values": [{}]}, "mark": {"type": "point", "opacity": 0}, "encoding": {}},
    {
     "width": 597, "height": 913,
     "title": {"text": "Down-regulated GO-BP (-log₁₀(adjp-value))", "fontSize": 41, "fontWeight": "normal", "font": "Noto Sans", "color": "#231f20", "anchor": "middle", "dx": -192, "offset": 45},
     "resolve": {"scale": {"y": "independent"}},
     "layer": [
      {"data": {"name": "downterms"},
       "mark": {"type": "bar", "color": "#658cc4"},
       "encoding": {
        "y": {"field": "term", "type": "nominal", "sort": null, "scale": {"paddingInner": 0.36, "paddingOuter": 0.17}, "axis": {"title": null, "tickSize": 15, "tickWidth": 3, "domainWidth": 3, "labelPadding": 22, "labelLimit": 0, "labelFontSize": 40.5}},
        "x": {"field": "val", "type": "quantitative", "scale": {"domain": [0, 2], "nice": false}, "axis": {"values": [0, 0.5, 1, 1.5, 2], "labelExpr": "format(datum.value, '.1f')", "title": null, "tickSize": 15, "tickWidth": 3, "domainWidth": 3, "labelPadding": 34, "labelFontSize": 40}}
       }},
      {"data": {"values": [{"p":"E","x1":-5.032,"x2":-4.73,"y1":14.05,"y2":15.38}]},
       "mark": {"type": "rect", "color": "#231f20"},
       "encoding": {"x": {"field": "x1", "type": "quantitative"}, "x2": {"field": "x2"}, "y": {"field": "y1", "type": "quantitative", "scale": {"domain": [0, 14], "reverse": true, "nice": false, "zero": false}, "axis": null}, "y2": {"field": "y2"}}},
      {"data": {"values": [{"p":"E","xc":-4.881,"yc":14.715}]},
       "mark": {"type": "text", "color": "white", "fontSize": 64, "fontWeight": "bold", "align": "center", "baseline": "middle"},
       "encoding": {"x": {"field": "xc", "type": "quantitative"}, "y": {"field": "yc", "type": "quantitative", "scale": {"domain": [0, 14], "reverse": true, "nice": false, "zero": false}, "axis": null}, "text": {"field": "p"}}}
     ]
    }
  ], "spacing": 0, "bounds": "flush"}
 ], "spacing": 81}
]
}
